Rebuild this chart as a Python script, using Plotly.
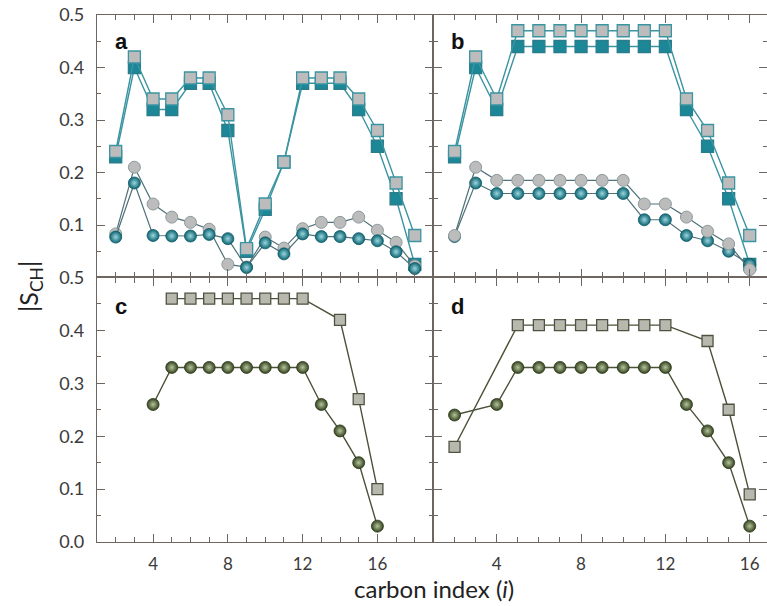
import plotly.graph_objects as go

# ---------------- data ----------------
a_x = [2, 3, 4, 5, 6, 7, 8, 9, 10, 11, 12, 13, 14, 15, 16, 17, 18]
a_sq_gray = [0.24, 0.42, 0.34, 0.34, 0.38, 0.38, 0.31, 0.055, 0.14, 0.22, 0.38, 0.38, 0.38, 0.34, 0.28, 0.18, 0.08]
a_sq_teal = [0.23, 0.40, 0.32, 0.32, 0.37, 0.37, 0.28, 0.05, 0.13, 0.22, 0.37, 0.37, 0.37, 0.32, 0.25, 0.15, 0.025]
a_ci_gray = [0.083, 0.21, 0.14, 0.115, 0.105, 0.092, 0.025, 0.02, 0.077, 0.056, 0.093, 0.105, 0.105, 0.115, 0.09, 0.067, 0.022]
a_ci_teal = [0.077, 0.18, 0.08, 0.079, 0.079, 0.082, 0.074, 0.019, 0.066, 0.045, 0.083, 0.078, 0.078, 0.074, 0.07, 0.049, 0.017]

b_x = [2, 3, 4, 5, 6, 7, 8, 9, 10, 11, 12, 13, 14, 15, 16]
b_sq_gray = [0.24, 0.42, 0.34, 0.47, 0.47, 0.47, 0.47, 0.47, 0.47, 0.47, 0.47, 0.34, 0.28, 0.18, 0.08]
b_sq_teal = [0.23, 0.40, 0.32, 0.44, 0.44, 0.44, 0.44, 0.44, 0.44, 0.44, 0.44, 0.32, 0.25, 0.15, 0.025]
b_ci_gray = [0.08, 0.21, 0.185, 0.185, 0.185, 0.185, 0.185, 0.185, 0.185, 0.14, 0.14, 0.115, 0.088, 0.064, 0.015]
b_ci_teal = [0.078, 0.18, 0.16, 0.16, 0.16, 0.16, 0.16, 0.16, 0.16, 0.11, 0.11, 0.08, 0.07, 0.05, 0.025]

c_sq_x = [5, 6, 7, 8, 9, 10, 11, 12, 14, 15, 16]
c_sq_y = [0.46, 0.46, 0.46, 0.46, 0.46, 0.46, 0.46, 0.46, 0.42, 0.27, 0.10]
c_ci_x = [4, 5, 6, 7, 8, 9, 10, 11, 12, 13, 14, 15, 16]
c_ci_y = [0.26, 0.33, 0.33, 0.33, 0.33, 0.33, 0.33, 0.33, 0.33, 0.26, 0.21, 0.15, 0.03]

d_sq_x = [2, 5, 6, 7, 8, 9, 10, 11, 12, 14, 15, 16]
d_sq_y = [0.18, 0.41, 0.41, 0.41, 0.41, 0.41, 0.41, 0.41, 0.41, 0.38, 0.25, 0.09]
d_ci_x = [2, 4, 5, 6, 7, 8, 9, 10, 11, 12, 13, 14, 15, 16]
d_ci_y = [0.24, 0.26, 0.33, 0.33, 0.33, 0.33, 0.33, 0.33, 0.33, 0.33, 0.26, 0.21, 0.15, 0.03]

x_tick_vals = [4, 8, 12, 16]
x_tick_labels = ["4", "8", "12", "16"]
y_tick_vals_top = [0.1, 0.2, 0.3, 0.4, 0.5]
y_tick_vals_bottom = [0.0, 0.1, 0.2, 0.3, 0.4, 0.5]
y_tick_text_top = ["0.1", "0.2", "0.3", "0.4", "0.5"]
y_tick_text_bottom = ["0.0", "0.1", "0.2", "0.3", "0.4", "0.5"]
panel_labels = ["a", "b", "c", "d"]

# ---------------- styles ----------------
TEAL = "#1c8797"
TEAL_DARK = "#0d6472"
TEAL_LINE = "#3a94a2"
GRAY_FILL = "#bcbcbc"
CIRC_LINE = "#4f7178"
OLIVE = "#34441f"
OLIVE_LINE = "#4b5238"
SQ_GRAY_CD = "#b8b8ae"
AXIS_COL = "#6e6661"
FONT = "Lato"

fig = go.Figure()


def add(x, y, xa, ya, symbol, color, line_col, mline_col, lw=1.4, mlw=1.3, size=12, gradient=None):
    marker = dict(symbol=symbol, size=size, color=color, line=dict(color=mline_col, width=mlw))
    if gradient:
        marker["gradient"] = dict(type="radial", color=gradient)
    fig.add_trace(go.Scatter(x=x, y=y, xaxis=xa, yaxis=ya, mode="lines+markers",
                             line=dict(color=line_col, width=lw), marker=marker,
                             showlegend=False, hoverinfo="x+y"))


# panel a
add(a_x, a_sq_teal, "x", "y", "square", TEAL, TEAL_LINE, "#2a7d8a")
add(a_x, a_sq_gray, "x", "y", "square", GRAY_FILL, TEAL_LINE, TEAL_LINE)
add(a_x, a_ci_gray, "x", "y", "circle", GRAY_FILL, CIRC_LINE, "#8c9a9c", lw=1.2, mlw=1.0)
add(a_x, a_ci_teal, "x", "y", "circle", TEAL_DARK, CIRC_LINE, "#0b5a66", lw=1.2, mlw=0.8, gradient="#9ad6de")

# panel b
add(b_x, b_sq_teal, "x2", "y2", "square", TEAL, TEAL_LINE, "#2a7d8a")
add(b_x, b_sq_gray, "x2", "y2", "square", GRAY_FILL, TEAL_LINE, TEAL_LINE)
add(b_x, b_ci_teal, "x2", "y2", "circle", TEAL_DARK, CIRC_LINE, "#0b5a66", lw=1.2, mlw=0.8, gradient="#9ad6de")
add(b_x, b_ci_gray, "x2", "y2", "circle", GRAY_FILL, CIRC_LINE, "#8c9a9c", lw=1.2, mlw=1.0)

# panel c
add(c_sq_x, c_sq_y, "x3", "y3", "square", SQ_GRAY_CD, OLIVE_LINE, "#4d5340", size=11)
add(c_ci_x, c_ci_y, "x3", "y3", "circle", OLIVE, OLIVE_LINE, "#2a3518", mlw=0.8, size=12, gradient="#b5c49c")

# panel d
add(d_sq_x, d_sq_y, "x4", "y4", "square", SQ_GRAY_CD, OLIVE_LINE, "#4d5340", size=11)
add(d_ci_x, d_ci_y, "x4", "y4", "circle", OLIVE, OLIVE_LINE, "#2a3518", mlw=0.8, size=12, gradient="#b5c49c")

# ---------------- axes ----------------
xsplit = 0.5022
ysplit = 0.5019


def xaxis(domain, rng, anchor, labels):
    return dict(domain=domain, range=rng, anchor=anchor, showline=True, linecolor=AXIS_COL,
                linewidth=1.2, mirror="ticks", ticks="inside", ticklen=8, tickwidth=1.2,
                tickcolor=AXIS_COL, tickmode="array", tickvals=x_tick_vals, ticktext=x_tick_labels,
                minor=dict(dtick=1, tick0=0, ticks="inside", ticklen=5, tickcolor=AXIS_COL, tickwidth=1.0, showgrid=False),
                showticklabels=labels, showgrid=False, zeroline=False,
                tickfont=dict(family=FONT, size=17, color="#3a3a3a"), ticklabelstandoff=6)


def yaxis(domain, anchor, vals, text, labels):
    return dict(domain=domain, range=[0, 0.5], anchor=anchor, showline=True, linecolor=AXIS_COL,
                linewidth=1.2, mirror="ticks", ticks="inside", ticklen=8, tickwidth=1.2,
                tickcolor=AXIS_COL, tickmode="array", tickvals=vals, ticktext=text,
                showticklabels=labels, showgrid=False, zeroline=False,
                minor=dict(dtick=0.05, ticks="inside", ticklen=4, tickcolor=AXIS_COL, tickwidth=1.0, showgrid=False),
                tickfont=dict(family=FONT, size=18, color="#3a3a3a"), ticklabelstandoff=8)


fig.update_layout(
    width=767, height=606,
    margin=dict(l=97, r=0, t=15, b=64),
    paper_bgcolor="white", plot_bgcolor="white",
    xaxis=xaxis([0, xsplit], [1, 19], "y", False),
    xaxis2=xaxis([xsplit, 1], [1, 16.82], "y2", False),
    xaxis3=xaxis([0, xsplit], [1, 19], "y3", True),
    xaxis4=xaxis([xsplit, 1], [1, 16.82], "y4", True),
    yaxis=yaxis([ysplit, 1], "x", y_tick_vals_top, y_tick_text_top, True),
    yaxis2=yaxis([ysplit, 1], "x2", y_tick_vals_top, y_tick_text_top, False),
    yaxis3=yaxis([0, ysplit], "x3", y_tick_vals_bottom, y_tick_text_bottom, True),
    yaxis4=yaxis([0, ysplit], "x4", y_tick_vals_bottom, y_tick_text_bottom, False),
)

annotations = []
for lab, xr, yr, yy in zip(panel_labels, ["x", "x2", "x3", "x4"], ["y", "y2", "y3", "y4"], [0.955, 0.955, 0.945, 0.945]):
    annotations.append(dict(text="<b>%s</b>" % lab, xref=xr + " domain", yref=yr + " domain",
                            x=0.047, y=yy, xanchor="left", yanchor="top", showarrow=False,
                            font=dict(family="Liberation Sans", size=22, color="#111")))

annotations.append(dict(text="|S<sub>CH</sub>|", xref="paper", yref="paper", x=-0.1, y=0.484,
                        xanchor="center", yanchor="middle", textangle=-90, showarrow=False,
                        font=dict(family=FONT, size=25, color="#222")))
annotations.append(dict(text="carbon index (<i>i</i>)", xref="paper", yref="paper", x=0.503, y=-0.088,
                        xanchor="center", yanchor="middle", showarrow=False,
                        font=dict(family=FONT, size=24, color="#222")))
fig.update_layout(annotations=annotations)

fig.write_html("out.html")
